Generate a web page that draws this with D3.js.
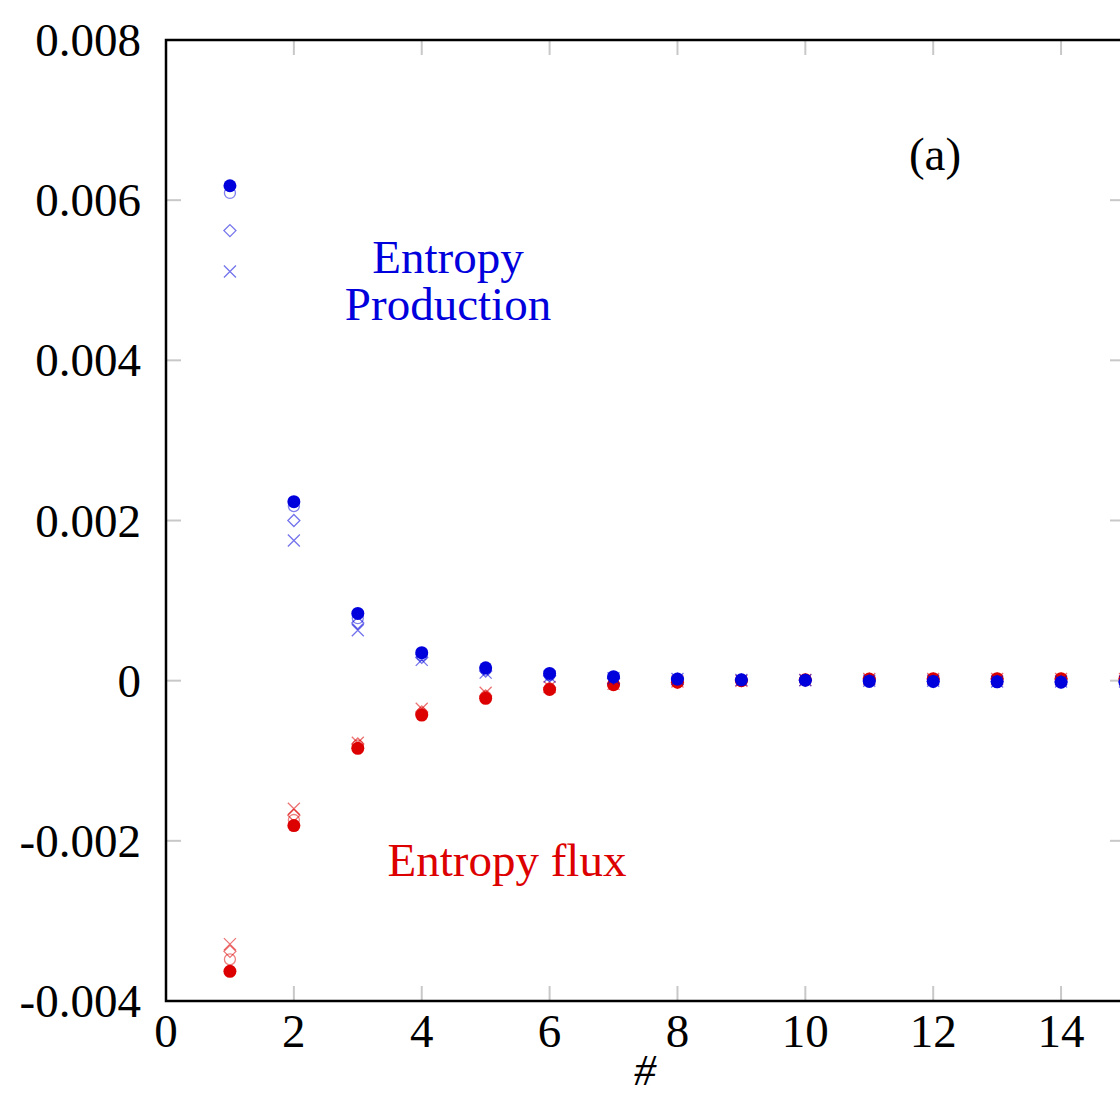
<!DOCTYPE html>
<html>
<head>
<meta charset="utf-8">
<script src="https://cdn.jsdelivr.net/npm/d3@7"></script>
<style>
  body { margin: 0; background: #fff; }
  svg { display: block; font-family: "Liberation Serif", "DejaVu Serif", serif; }
</style>
</head>
<body>
<svg width="1120" height="1097"></svg>
<script>
// index of each point along the x axis
const steps = d3.range(1, 16);

// entropy production (blue) - four runs
const prodFilled  = [0.00618, 0.002235, 0.00084, 0.00035, 0.00016, 0.00009, 0.00005, 0.00002, 0.00001, 0.000005, -0.00001, -0.00001, -0.000015, -0.00002, -0.00002];
const prodCircle  = [0.00609, 0.00218, 0.00078, 0.00032, 0.00014, 0.00007, 0.00004, 0.00002, 0.00001, 0.000005, 0, -0.00001, -0.00001, -0.00002, -0.00002];
const prodDiamond = [0.00562, 0.00200, 0.00072, 0.00029, 0.00012, 0.00006, 0.00003, 0.00002, 0.00001, 0.000005, 0, -0.00001, -0.00001, -0.00001, -0.00001];
const prodCross   = [0.00511, 0.00175, 0.00063, 0.00026, 0.00010, 0.00005, 0.00003, 0.00002, 0.00001, 0.000005, 0, 0, -0.00001, -0.00001, -0.00001];

// entropy flux (red) - four runs
const fluxFilled  = [-0.00363, -0.00181, -0.000845, -0.00043, -0.00022, -0.00011, -0.00005, -0.00002, 0, 0.00001, 0.00002, 0.000025, 0.000025, 0.000025, 0.000025];
const fluxCircle  = [-0.00348, -0.00174, -0.00081, -0.00041, -0.00020, -0.00010, -0.00005, -0.00002, 0, 0.00001, 0.00002, 0.00002, 0.00002, 0.00002, 0.00002];
const fluxDiamond = [-0.00338, -0.00168, -0.00079, -0.00039, -0.00019, -0.00009, -0.00004, -0.00002, 0, 0.00001, 0.00002, 0.00002, 0.00002, 0.00002, 0.00002];
const fluxCross   = [-0.00329, -0.00160, -0.000775, -0.00035, -0.00015, -0.00008, -0.00004, -0.00001, 0, 0.00001, 0.00002, 0.00002, 0.00002, 0.00002, 0.00002];

const xTicks = [0, 2, 4, 6, 8, 10, 12, 14];
const yTicks = [-0.004, -0.002, 0, 0.002, 0.004, 0.006, 0.008];
const yTickLabels = ["-0.004", "-0.002", "0", "0.002", "0.004", "0.006", "0.008"];

const blue = "#0000dd";
const red = "#dd0000";
const fs = 47;

const svg = d3.select("svg");
const margin = { left: 166, right: 1125, top: 40, bottom: 1001 };

const x = d3.scaleLinear().domain([0, 15]).range([margin.left, margin.right]);
const y = d3.scaleLinear().domain([-0.004, 0.008]).range([margin.bottom, margin.top]);

// gray inward ticks on all four sides
const tickLen = 15;
const ticks = svg.append("g").attr("stroke", "#c8c8c8").attr("stroke-width", 2);
xTicks.forEach(t => {
    ticks.append("line").attr("x1", x(t)).attr("x2", x(t)).attr("y1", margin.bottom).attr("y2", margin.bottom - tickLen);
    ticks.append("line").attr("x1", x(t)).attr("x2", x(t)).attr("y1", margin.top).attr("y2", margin.top + tickLen);
});
yTicks.forEach(t => {
    ticks.append("line").attr("x1", margin.left).attr("x2", margin.left + tickLen).attr("y1", y(t)).attr("y2", y(t));
    ticks.append("line").attr("x1", margin.right).attr("x2", margin.right - tickLen).attr("y1", y(t)).attr("y2", y(t));
});

// frame
svg.append("rect")
    .attr("x", margin.left).attr("y", margin.top)
    .attr("width", margin.right - margin.left)
    .attr("height", margin.bottom - margin.top)
    .attr("fill", "none").attr("stroke", "#000").attr("stroke-width", 2.5);

// tick labels
svg.append("g").selectAll("text")
    .data(xTicks).enter().append("text")
    .attr("x", d => x(d)).attr("y", 1047)
    .attr("text-anchor", "middle").attr("font-size", fs)
    .text(d => d);

svg.append("g").selectAll("text")
    .data(yTicks).enter().append("text")
    .attr("x", 141).attr("y", d => y(d) + 16)
    .attr("text-anchor", "end").attr("font-size", fs)
    .text((d, i) => yTickLabels[i]);

svg.append("text").attr("x", 645).attr("y", 1085)
    .attr("text-anchor", "middle").attr("font-size", 44).attr("font-style", "italic")
    .text("#");

// markers
const plot = svg.append("g");

function drawCross(vals, color) {
    plot.append("g").selectAll("path")
        .data(vals).enter().append("path")
        .attr("d", (d, i) => {
            const cx = x(steps[i]), cy = y(d), s = 6;
            return `M${cx - s},${cy - s}L${cx + s},${cy + s}M${cx - s},${cy + s}L${cx + s},${cy - s}`;
        })
        .attr("stroke", color).attr("stroke-opacity", 0.55).attr("stroke-width", 1.3).attr("fill", "none");
}

function drawDiamond(vals, color) {
    plot.append("g").selectAll("path")
        .data(vals).enter().append("path")
        .attr("d", (d, i) => {
            const cx = x(steps[i]), cy = y(d), s = 6;
            return `M${cx},${cy - s}L${cx + s},${cy}L${cx},${cy + s}L${cx - s},${cy}Z`;
        })
        .attr("stroke", color).attr("stroke-opacity", 0.55).attr("stroke-width", 1.3).attr("fill", "none");
}

function drawCircle(vals, color) {
    plot.append("g").selectAll("circle")
        .data(vals).enter().append("circle")
        .attr("cx", (d, i) => x(steps[i])).attr("cy", d => y(d)).attr("r", 5.5)
        .attr("stroke", color).attr("stroke-opacity", 0.5).attr("stroke-width", 1.3).attr("fill", "none");
}

function drawFilled(vals, color) {
    plot.append("g").selectAll("circle")
        .data(vals).enter().append("circle")
        .attr("cx", (d, i) => x(steps[i])).attr("cy", d => y(d)).attr("r", 6.5)
        .attr("fill", color);
}

drawCross(fluxCross, red);
drawDiamond(fluxDiamond, red);
drawCircle(fluxCircle, red);
drawFilled(fluxFilled, red);
drawCross(prodCross, blue);
drawDiamond(prodDiamond, blue);
drawCircle(prodCircle, blue);
drawFilled(prodFilled, blue);

// annotations
svg.append("text").attr("x", 448).attr("y", 273).attr("text-anchor", "middle")
    .attr("font-size", fs).attr("fill", blue).text("Entropy");
svg.append("text").attr("x", 448).attr("y", 320).attr("text-anchor", "middle")
    .attr("font-size", fs).attr("fill", blue).text("Production");
svg.append("text").attr("x", 507).attr("y", 876).attr("text-anchor", "middle")
    .attr("font-size", fs).attr("fill", red).text("Entropy flux");
svg.append("text").attr("x", 935).attr("y", 170).attr("text-anchor", "middle")
    .attr("font-size", fs).attr("fill", "#000").text("(a)");
</script>
</body>
</html>
